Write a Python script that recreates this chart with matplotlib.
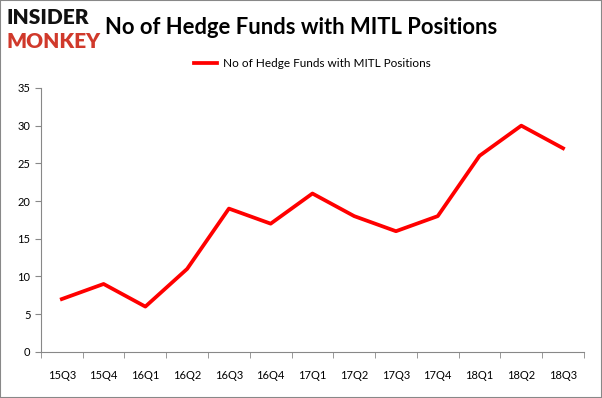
import matplotlib.pyplot as plt
from matplotlib.patches import Rectangle
import numpy as np

quarters = ["15Q3", "15Q4", "16Q1", "16Q2", "16Q3", "16Q4", "17Q1",
            "17Q2", "17Q3", "17Q4", "18Q1", "18Q2", "18Q3"]
funds = [7, 9, 6, 11, 19, 17, 21, 18, 16, 18, 26, 30, 27]
label = "No of Hedge Funds with MITL Positions"

plt.rcParams['font.family'] = ['Lato', 'DejaVu Sans']

fig = plt.figure(figsize=(6.02, 3.98), dpi=100)
ax = fig.add_axes([0.068, 0.116, 0.902, 0.663])

x = np.arange(len(quarters))
ax.plot(x, funds, color="#ff0000", lw=2.7, label=label)

ax.set_xlim(-0.5, len(quarters) - 0.5)
ax.set_ylim(0, 35)
ax.set_yticks(range(0, 36, 5))
ax.set_xticks(x)
ax.set_xticklabels(quarters)
ax.set_xticks(np.arange(-0.5, len(quarters), 1), minor=True)
ax.tick_params(axis="x", which="major", length=0, pad=13, labelsize=8)
ax.tick_params(axis="x", which="minor", length=4, color="#888888")
ax.tick_params(axis="y", length=4, color="#888888", labelsize=8)

for side in ["top", "right"]:
    ax.spines[side].set_visible(False)
for side in ["left", "bottom"]:
    ax.spines[side].set_color("#888888")

ax.legend(loc="lower center", bbox_to_anchor=(0.5, 1.03), frameon=False,
          fontsize=8.5, handlelength=2.0, handletextpad=0.5)

fig.text(0.5, 0.93, label, ha="center", va="center", fontsize=15.8,
         fontweight="bold")
fig.text(0.01, 0.955, "INSIDER", ha="left", va="center", fontsize=15,
         fontweight="heavy", color="#111111")
fig.text(0.01, 0.895, "MONKEY", ha="left", va="center", fontsize=15,
         fontweight="heavy", color="#d0392b")

fig.patches.append(Rectangle((0, 0), 1, 1, transform=fig.transFigure,
                             fill=False, edgecolor="#888888", lw=1.5))

fig.savefig("out.png", dpi=100)
